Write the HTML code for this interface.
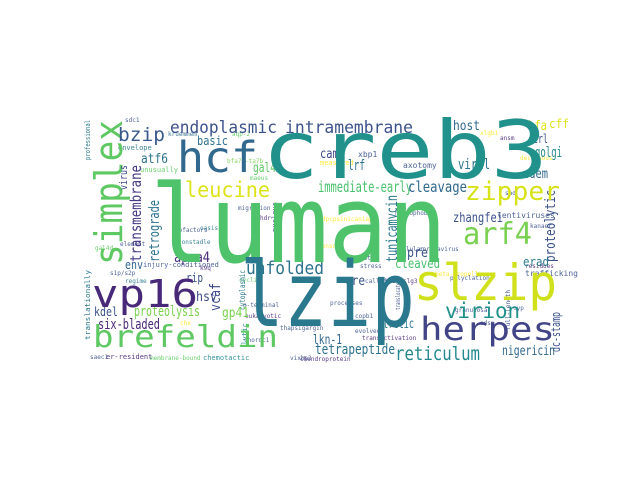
<!DOCTYPE html>
<html><head><meta charset="utf-8"><style>
html,body{margin:0;padding:0;background:#fff;}
svg{display:block;}
text{font-family:"DejaVu Sans Mono","Liberation Mono",monospace;}
</style></head><body>
<svg width="640" height="480" viewBox="0 0 640 480">
<rect x="0" y="0" width="640" height="480" fill="#fff"/>
<g lengthAdjust="spacingAndGlyphs">
<!-- small filler words -->
<g font-size="6" fill="#3b528b" opacity="0.9">
<text x="125" y="122">sdc1</text>
<text x="168" y="136" fill="#31688e">kruemmem</text>
<text x="232" y="136" fill="#5ec962">aqp-2</text>
<text x="118" y="150" fill="#2a788e" font-size="7">envelope</text>
<text x="140" y="172" fill="#5ec962" font-size="7">unusually</text>
<text x="227" y="163" fill="#7ad151">bfa72-ta7b</text>
<text x="250" y="180" fill="#5ec962">maeus</text>
<text x="238" y="210" fill="#3b528b">migration</text>
<text x="260" y="220" fill="#482878">hdr</text>
<text x="200" y="230" fill="#2a788e">oasis</text>
<text x="175" y="232" fill="#3b528b">cofactors</text>
<text x="178" y="244" fill="#2a788e">constadle</text>
<text x="95" y="250" fill="#5ec962">gal4d</text>
<text x="120" y="246" fill="#3b528b">element</text>
<text x="110" y="275" fill="#3b528b">s1p/s2p</text>
<text x="125" y="283" fill="#2a788e">regime</text>
<text x="200" y="270" fill="#482878">k9q</text>
<text x="239" y="282" fill="#5ec962">cyclic</text>
<text x="243" y="307" fill="#3b528b">n-terminal</text>
<text x="245" y="318" fill="#482878">eukaryotic</text>
<text x="280" y="330" fill="#3b528b">thapsigargin</text>
<text x="180" y="325" fill="#fde725">chx</text>
<text x="244" y="342" fill="#3b528b">chordc1</text>
<text x="290" y="360" fill="#3b528b">vixbp2</text>
<text x="300" y="361" fill="#482878">chondroprotein</text>
<text x="150" y="360" fill="#5ec962">membrane-bound</text>
<text x="203" y="360" fill="#23888e" font-size="7">chemotactic</text>
<text x="106" y="359" fill="#482878" font-size="7">er-resident</text>
<text x="90" y="359" fill="#3b528b">saec1</text>
<text x="143" y="267" fill="#3b528b" font-size="7">injury-conditioned</text>
<text x="358" y="157" fill="#3b528b" font-size="8">xbp1</text>
<text x="403" y="168" fill="#3b528b" font-size="8">axotomy</text>
<text x="320" y="165" fill="#fde725" font-size="7">measured</text>
<text x="395" y="215" fill="#3b528b">hydrophobic</text>
<text x="322" y="221" fill="#fde725">dpcpsinicaniap</text>
<text x="318" y="248" fill="#fde725">sensory</text>
<text x="395" y="251" fill="#3b528b">cellular</text>
<text x="419" y="251" fill="#3b528b">coronavirus</text>
<text x="497" y="218" fill="#3b528b" font-size="8">lentiviruses</text>
<text x="360" y="268" fill="#3b528b">stress</text>
<text x="360" y="260" fill="#3b528b">motif</text>
<text x="435" y="276" fill="#fde725">beta-propeller</text>
<text x="365" y="283" fill="#3b528b">called</text>
<text x="385" y="283" fill="#482878">hmsl/slg3</text>
<text x="330" y="305" fill="#3b528b">processes</text>
<text x="355" y="318" fill="#3b528b">copb1</text>
<text x="355" y="333" fill="#3b528b">evolved</text>
<text x="362" y="340" fill="#482878">transactivation</text>
<text x="450" y="280" fill="#3b528b">polyclation</text>
<text x="455" y="312" fill="#3b528b">granulosa</text>
<text x="513" y="310" fill="#3b528b">cyp</text>
<text x="480" y="325" fill="#3b528b">edsp</text>
<text x="525" y="276" fill="#3b528b" font-size="8">trafficking</text>
<text x="525" y="268" fill="#482878">residues</text>
<text x="530" y="228" fill="#3b528b">kanaer</text>
<text x="505" y="195" fill="#3b528b">sad</text>
<text x="520" y="160" fill="#fde725">deciduous</text>
<text x="480" y="135" fill="#fde725">xlgb1</text>
<text x="500" y="140" fill="#482878">ansm</text>
</g>
<!-- vertical small -->
<text transform="translate(90,160) rotate(-90)" font-size="7" fill="#2a788e" textLength="40" lengthAdjust="spacingAndGlyphs">professional</text>
<text transform="translate(90,340) rotate(-90)" font-size="7" fill="#2a788e" textLength="70" lengthAdjust="spacingAndGlyphs">translationally</text>
<text transform="translate(277,232) rotate(-90)" font-size="7" fill="#3b528b" textLength="30" lengthAdjust="spacingAndGlyphs">nucleus</text>
<text transform="translate(245,310) rotate(-90)" font-size="8" fill="#2a788e" textLength="40" lengthAdjust="spacingAndGlyphs">cytoplasmic</text>
<text transform="translate(247,345) rotate(-90)" font-size="7" fill="#23888e" textLength="22" lengthAdjust="spacingAndGlyphs">lytic</text>
<text transform="translate(400,310) rotate(-90)" font-size="6" fill="#3b528b" textLength="30" lengthAdjust="spacingAndGlyphs">translocates</text>
<text transform="translate(510,330) rotate(-90)" font-size="6" fill="#3b528b" textLength="40" lengthAdjust="spacingAndGlyphs">full-length</text>
<text transform="translate(555,262) rotate(-90)" font-size="14" fill="#3b528b" textLength="72" lengthAdjust="spacingAndGlyphs">proteolytic</text>
<text transform="translate(560,352) rotate(-90)" font-size="12" fill="#3b528b" textLength="40" lengthAdjust="spacingAndGlyphs">dc-stamp</text>
<!-- big vertical -->
<text transform="translate(122,265) rotate(-90)" font-size="38" fill="#5ec962" textLength="145" lengthAdjust="spacingAndGlyphs">simplex</text>
<text transform="translate(141,262) rotate(-90)" font-size="15" fill="#443983" textLength="97" lengthAdjust="spacingAndGlyphs">transmembrane</text>
<text transform="translate(159,262) rotate(-90)" font-size="14" fill="#2c728e" textLength="62" lengthAdjust="spacingAndGlyphs">retrograde</text>
<text transform="translate(127,190) rotate(-90)" font-size="11" fill="#3e4a89" textLength="25" lengthAdjust="spacingAndGlyphs">virus</text>
<text transform="translate(397,262) rotate(-90)" font-size="15" fill="#2a788e" textLength="67" lengthAdjust="spacingAndGlyphs">tunicamycin</text>
<text transform="translate(220,311) rotate(-90)" font-size="14" fill="#3e4a89" textLength="28" lengthAdjust="spacingAndGlyphs">vcaf</text>
<!-- medium horizontal -->
<text x="170" y="133" font-size="17" fill="#3b528b" textLength="107" lengthAdjust="spacingAndGlyphs">endoplasmic</text>
<text x="285" y="133" font-size="17" fill="#3b528b" textLength="128" lengthAdjust="spacingAndGlyphs">intramembrane</text>
<text x="118" y="141" font-size="19" fill="#38598c" textLength="47" lengthAdjust="spacingAndGlyphs">bzip</text>
<text x="197" y="145" font-size="12" fill="#2c728e" textLength="31" lengthAdjust="spacingAndGlyphs">basic</text>
<text x="141" y="163" font-size="13" fill="#2c728e" textLength="27" lengthAdjust="spacingAndGlyphs">atf6</text>
<text x="185" y="197" font-size="21" fill="#dde318" textLength="85" lengthAdjust="spacingAndGlyphs">leucine</text>
<text x="253" y="172" font-size="13" fill="#5ec962" textLength="23" lengthAdjust="spacingAndGlyphs">gal4</text>
<text x="320" y="158" font-size="13" fill="#3e4a89" textLength="25" lengthAdjust="spacingAndGlyphs">camp</text>
<text x="318" y="192" font-size="15" fill="#4ac16d" textLength="94" lengthAdjust="spacingAndGlyphs">immediate-early</text>
<text x="408" y="192" font-size="15" fill="#31688e" textLength="59" lengthAdjust="spacingAndGlyphs">cleavage</text>
<text x="348" y="170" font-size="14" fill="#2c728e" textLength="17" lengthAdjust="spacingAndGlyphs">lrf</text>
<text x="453" y="130" font-size="13" fill="#31688e" textLength="27" lengthAdjust="spacingAndGlyphs">host</text>
<text x="458" y="169" font-size="14" fill="#2c728e" textLength="32" lengthAdjust="spacingAndGlyphs">viral</text>
<text x="523" y="178" font-size="13" fill="#31688e" textLength="25" lengthAdjust="spacingAndGlyphs">edem</text>
<text x="535" y="157" font-size="14" fill="#23888e" textLength="27" lengthAdjust="spacingAndGlyphs">golgi</text>
<text x="528" y="130" font-size="13" fill="#dde318" textLength="19" lengthAdjust="spacingAndGlyphs">bfa</text>
<text x="549" y="128" font-size="12" fill="#dde318" textLength="20" lengthAdjust="spacingAndGlyphs">cff</text>
<text x="528" y="143" font-size="12" fill="#3b528b" textLength="20" lengthAdjust="spacingAndGlyphs">ccrl</text>
<text x="465" y="200" font-size="26" fill="#d8e219" textLength="95" lengthAdjust="spacingAndGlyphs">zipper</text>
<text x="453" y="222" font-size="13" fill="#3b528b" textLength="50" lengthAdjust="spacingAndGlyphs">zhangfei</text>
<text x="463" y="244" font-size="30" fill="#7ad151" textLength="69" lengthAdjust="spacingAndGlyphs">arf4</text>
<text x="400" y="257" font-size="13" fill="#3b528b" textLength="28" lengthAdjust="spacingAndGlyphs">upre</text>
<text x="395" y="268" font-size="13" fill="#4ac16d" textLength="45" lengthAdjust="spacingAndGlyphs">cleaved</text>
<text x="523" y="266" font-size="12" fill="#2a788e" textLength="26" lengthAdjust="spacingAndGlyphs">erad</text>
<text x="345" y="285" font-size="13" fill="#3b528b" textLength="20" lengthAdjust="spacingAndGlyphs">cre</text>
<text x="174" y="262" font-size="14" fill="#482878" textLength="36" lengthAdjust="spacingAndGlyphs">apoa4</text>
<text x="186" y="282" font-size="12" fill="#3b528b" textLength="17" lengthAdjust="spacingAndGlyphs">rip</text>
<text x="125" y="269" font-size="12" fill="#31688e" textLength="18" lengthAdjust="spacingAndGlyphs">env</text>
<text x="246" y="274" font-size="18" fill="#2c728e" textLength="78" lengthAdjust="spacingAndGlyphs">unfolded</text>
<text x="196" y="301" font-size="13" fill="#3e4a89" textLength="21" lengthAdjust="spacingAndGlyphs">hsv</text>
<text x="222" y="317" font-size="13" fill="#7ad151" textLength="27" lengthAdjust="spacingAndGlyphs">gp41</text>
<text x="94" y="316" font-size="12" fill="#3b528b" textLength="24" lengthAdjust="spacingAndGlyphs">kdel</text>
<text x="134" y="316" font-size="14" fill="#7ad151" textLength="66" lengthAdjust="spacingAndGlyphs">proteolysis</text>
<text x="98" y="329" font-size="14" fill="#482878" textLength="62" lengthAdjust="spacingAndGlyphs">six-bladed</text>
<text x="313" y="344" font-size="13" fill="#31688e" textLength="29" lengthAdjust="spacingAndGlyphs">lkn-1</text>
<text x="378" y="328" font-size="13" fill="#2a788e" textLength="36" lengthAdjust="spacingAndGlyphs">atretic</text>
<text x="315" y="354" font-size="14" fill="#2c728e" textLength="80" lengthAdjust="spacingAndGlyphs">tetrapeptide</text>
<text x="395" y="360" font-size="19" fill="#23888e" textLength="85" lengthAdjust="spacingAndGlyphs">reticulum</text>
<text x="502" y="355" font-size="13" fill="#31688e" textLength="53" lengthAdjust="spacingAndGlyphs">nigericin</text>
<text x="445" y="318" font-size="21" fill="#21918c" textLength="75" lengthAdjust="spacingAndGlyphs">virion</text>
<!-- big words -->
<text x="177" y="172" font-size="43" fill="#31688e" textLength="81" lengthAdjust="spacingAndGlyphs">hcf</text>
<text x="262" y="178" font-size="80" fill="#21918c" textLength="286" lengthAdjust="spacingAndGlyphs">creb3</text>
<text x="150" y="262" font-size="108" fill="#4ec36b" textLength="297" lengthAdjust="spacingAndGlyphs">luman</text>
<text x="240" y="326" font-size="90" fill="#2a788e" textLength="175" lengthAdjust="spacingAndGlyphs">lzip</text>
<text x="414" y="300" font-size="50" fill="#d0e11c" textLength="143" lengthAdjust="spacingAndGlyphs">slzip</text>
<text x="92" y="307" font-size="38" fill="#482878" textLength="106" lengthAdjust="spacingAndGlyphs">vp16</text>
<text x="93" y="347" font-size="30" fill="#5ec962" textLength="185" lengthAdjust="spacingAndGlyphs">brefeldin</text>
<text x="420" y="340" font-size="32" fill="#414487" textLength="135" lengthAdjust="spacingAndGlyphs">herpes</text>
</g>
</svg>
</body></html>
